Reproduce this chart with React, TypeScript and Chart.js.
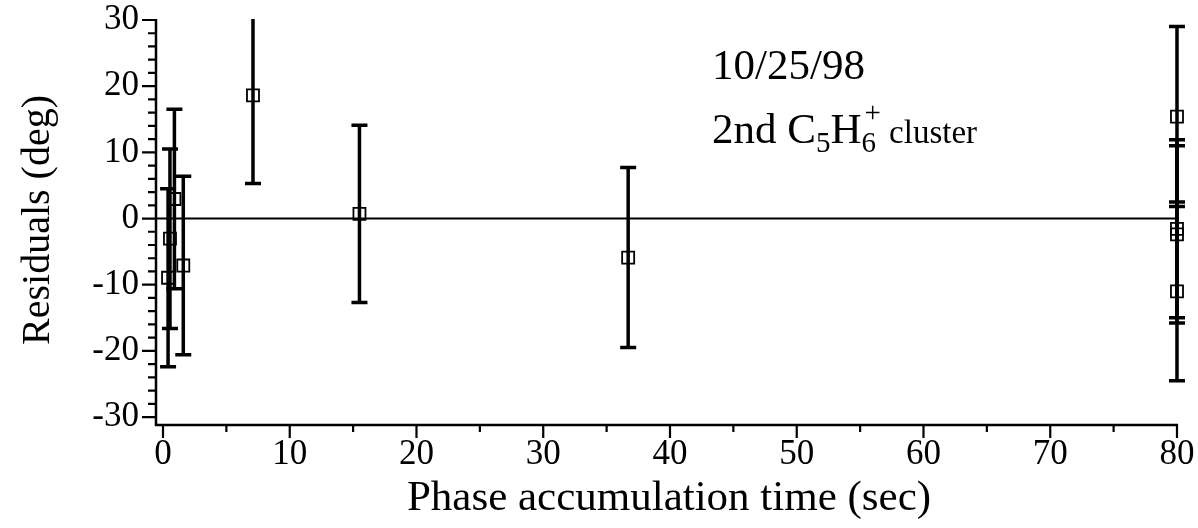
import React, { useEffect, useRef } from "react";
import { Chart, registerables } from "chart.js";

Chart.register(...registerables);

// ---- data ----
const xValues = [0.4, 0.55, 0.9, 1.6, 7.1, 15.5, 36.7, 80, 80, 80, 80];
const yValues = [-8.95, -3.05, 2.95, -7.1, 18.6, 0.7, -5.9, 15.4, -1.55, -2.4, -11.0];
const yErrors = [13.45, 13.55, 13.55, 13.5, 13.3, 13.4, 13.6, 13.6, 13.45, 13.4, 13.5];

const xTickLabels = [0, 10, 20, 30, 40, 50, 60, 70, 80];
const xMinorTicks = [5, 15, 25, 35, 45, 55, 65, 75];
const yTickLabels = [-30, -20, -10, 0, 10, 20, 30];
const yMinorTicks = [-28, -26, -24, -22, -18, -16, -14, -12, -8, -6, -4, -2, 2, 4, 6, 8, 12, 14, 16, 18, 22, 24, 26, 28];

const xTitle = "Phase accumulation time (sec)";
const yTitle = "Residuals (deg)";
const noteDate = "10/25/98";

// ---- layout / style ----
const W = 1198;
const H = 528;
const LEFT = 156;
const TOP = 20;
const RIGHT = 20;
const BOTTOM = 425;
const X_MIN = -0.552;
const X_MAX = 80.08;
const Y_MIN = -31.2;
const Y_MAX = 30;
const FONT = "'Liberation Serif', 'Times New Roman', serif";

const decorPlugin = {
  id: "decor",
  beforeDatasetsDraw(chart: any) {
    const { ctx, chartArea, scales } = chart;
    const xs = scales.x;
    const ys = scales.y;
    ctx.save();
    ctx.strokeStyle = "#000";
    // zero line
    ctx.lineWidth = 2;
    ctx.beginPath();
    ctx.moveTo(chartArea.left, ys.getPixelForValue(0));
    ctx.lineTo(xs.getPixelForValue(80), ys.getPixelForValue(0));
    ctx.stroke();
    // error bars (clipped vertically to the plot)
    ctx.beginPath();
    ctx.rect(0, chartArea.top - 1, W, chartArea.bottom - chartArea.top + 1);
    ctx.clip();
    ctx.lineWidth = 3.5;
    xValues.forEach((xv, i) => {
      const px = xs.getPixelForValue(xv);
      const top = ys.getPixelForValue(yValues[i] + yErrors[i]);
      const bot = ys.getPixelForValue(yValues[i] - yErrors[i]);
      ctx.beginPath();
      ctx.moveTo(px, top);
      ctx.lineTo(px, bot);
      ctx.moveTo(px - 8, top);
      ctx.lineTo(px + 8, top);
      ctx.moveTo(px - 8, bot);
      ctx.lineTo(px + 8, bot);
      ctx.stroke();
    });
    ctx.restore();
  },
  afterDraw(chart: any) {
    const { ctx, chartArea, scales } = chart;
    const xs = scales.x;
    const ys = scales.y;
    ctx.save();
    ctx.strokeStyle = "#000";
    ctx.fillStyle = "#000";
    ctx.lineWidth = 2.5;
    ctx.lineCap = "butt";
    // spines
    ctx.beginPath();
    ctx.moveTo(chartArea.left, chartArea.top - 1);
    ctx.lineTo(chartArea.left, chartArea.bottom);
    ctx.lineTo(chartArea.right, chartArea.bottom);
    ctx.stroke();
    // y ticks (outside, to the left)
    ctx.lineWidth = 2.2;
    ctx.beginPath();
    yTickLabels.forEach((v) => {
      const py = ys.getPixelForValue(v);
      ctx.moveTo(chartArea.left, py);
      ctx.lineTo(chartArea.left - 14, py);
    });
    yMinorTicks.forEach((v) => {
      const py = ys.getPixelForValue(v);
      ctx.moveTo(chartArea.left, py);
      ctx.lineTo(chartArea.left - 8, py);
    });
    // x ticks (outside, downward)
    xTickLabels.forEach((v) => {
      const px = xs.getPixelForValue(v);
      ctx.moveTo(px, chartArea.bottom);
      ctx.lineTo(px, chartArea.bottom + 13);
    });
    xMinorTicks.forEach((v) => {
      const px = xs.getPixelForValue(v);
      ctx.moveTo(px, chartArea.bottom);
      ctx.lineTo(px, chartArea.bottom + 7);
    });
    ctx.stroke();

    // axis titles
    ctx.textAlign = "center";
    ctx.textBaseline = "alphabetic";
    ctx.font = `43px ${FONT}`;
    ctx.fillText(xTitle, (chartArea.left + chartArea.right) / 2 + 2, 510);
    ctx.font = `40px ${FONT}`;
    ctx.save();
    ctx.translate(49, 220);
    ctx.rotate(-Math.PI / 2);
    ctx.fillText(yTitle, 0, 0);
    ctx.restore();

    // annotation
    ctx.textAlign = "left";
    const big = `43px ${FONT}`;
    const small = `29px ${FONT}`;
    const x0 = 712;
    ctx.font = big;
    ctx.fillText(noteDate, x0, 79);
    let cx = x0;
    const base = 143;
    const put = (t: string, font: string, dy: number) => {
      ctx.font = font;
      ctx.fillText(t, cx, base + dy);
      cx += ctx.measureText(t).width;
    };
    put("2nd C", big, 0);
    put("5", small, 9);
    put("H", big, 0);
    const sixX = cx;
    put("6", small, 9);
    ctx.font = small;
    ctx.fillText("+", sixX + 3, base - 21);
    cx = Math.max(cx, sixX + 3 + ctx.measureText("+").width);
    put(" cluster", `33px ${FONT}`, 0);
    ctx.restore();
  },
};

export default function App() {
  const ref = useRef<HTMLCanvasElement>(null);
  useEffect(() => {
    const canvas = ref.current!;
    const chart = new Chart(canvas, {
      type: "scatter",
      data: {
        datasets: [
          {
            data: xValues.map((x, i) => ({ x, y: yValues[i] })),
            pointStyle: "rect",
            pointRadius: 8.5,
            pointHoverRadius: 8.5,
            pointBorderWidth: 1.8,
            borderColor: "#000",
            backgroundColor: "rgba(0,0,0,0)",
            clip: false,
          } as any,
        ],
      },
      options: {
        responsive: false,
        animation: false,
        devicePixelRatio: 1,
        events: [],
        layout: { padding: { top: TOP, right: RIGHT, left: 0, bottom: 0 } },
        plugins: { legend: { display: false }, tooltip: { enabled: false } },
        scales: {
          x: {
            type: "linear",
            min: X_MIN,
            max: X_MAX,
            grid: { display: false, drawTicks: false },
            border: { display: false },
            afterBuildTicks: (s: any) => {
              s.ticks = xTickLabels.map((v) => ({ value: v }));
            },
            afterFit: (s: any) => {
              s.height = H - BOTTOM;
              s.paddingLeft = 0;
              s.paddingRight = 0;
            },
            ticks: {
              autoSkip: false,
              maxRotation: 0,
              padding: 9,
              color: "#000",
              font: { family: FONT, size: 35 },
              callback: (v: any) => String(v),
            },
          },
          y: {
            type: "linear",
            min: Y_MIN,
            max: Y_MAX,
            grid: { display: false, drawTicks: false },
            border: { display: false },
            afterBuildTicks: (s: any) => {
              s.ticks = yTickLabels.map((v) => ({ value: v }));
            },
            afterFit: (s: any) => {
              s.width = LEFT;
              s.paddingTop = 0;
              s.paddingBottom = 0;
            },
            ticks: {
              autoSkip: false,
              padding: 17,
              color: "#000",
              font: { family: FONT, size: 35 },
              callback: (v: any) => String(v),
            },
          },
        },
      },
      plugins: [decorPlugin],
    });
    return () => chart.destroy();
  }, []);
  return (
    <div style={{ position: "absolute", left: 0, top: 0, width: W, height: H, background: "#fff" }}>
      <canvas ref={ref} width={W} height={H} style={{ display: "block", width: W, height: H }} />
    </div>
  );
}
